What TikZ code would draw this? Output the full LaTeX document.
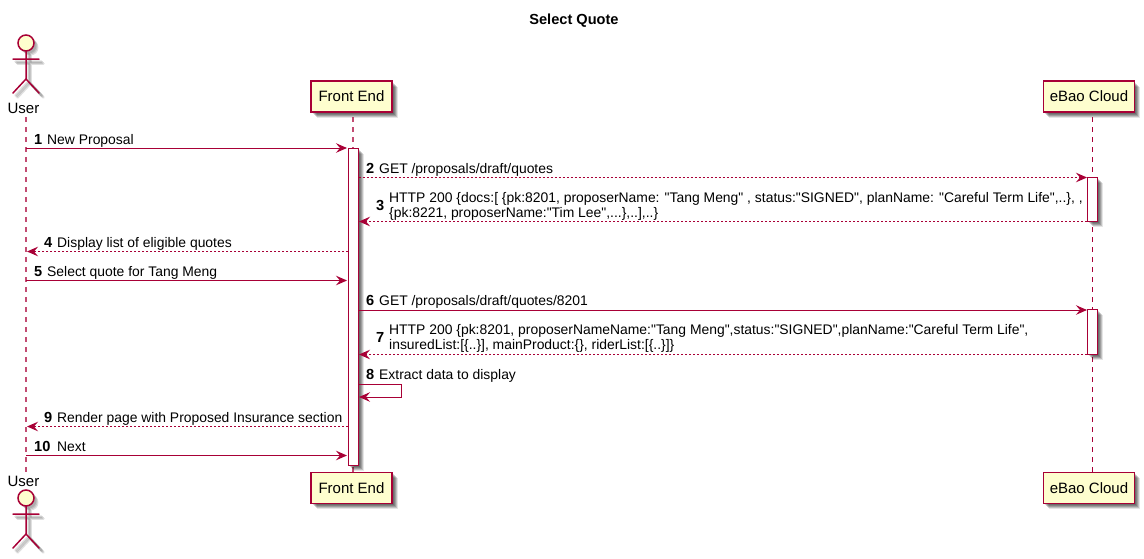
\documentclass[tikz,border=0pt]{standalone}
\usepackage{fontspec}
\setmainfont{Liberation Sans}
\newfontfamily\plainsans{Liberation Sans}
\usetikzlibrary{arrows.meta,shadows}
\definecolor{pu}{HTML}{A80036}
\definecolor{pf}{HTML}{FEFECE}
\tikzset{
  softshadow/.style={
    general shadow={shadow xshift=1.5pt,shadow yshift=-1.5pt,fill=black,opacity=.16},
    general shadow={shadow xshift=2.5pt,shadow yshift=-2.5pt,fill=black,opacity=.18},
    general shadow={shadow xshift=3.5pt,shadow yshift=-3.5pt,fill=black,opacity=.18},
    general shadow={shadow xshift=4.5pt,shadow yshift=-4.5pt,fill=black,opacity=.16},
    general shadow={shadow xshift=5.5pt,shadow yshift=-5.5pt,fill=black,opacity=.10}},
  party/.style={draw=pu,line width=1.5pt,fill=pf,inner sep=0pt,minimum height=31pt,font=\fontsize{15}{17}\selectfont\plainsans,softshadow},
  actv/.style={draw=pu,line width=1pt,fill=white,inner sep=0pt,minimum width=10pt,softshadow},
  life/.style={draw=pu,line width=1pt,dash pattern=on 5pt off 5pt},
  msg/.style={draw=pu,line width=1pt,-{Stealth[length=11pt,width=9.5pt,inset=4pt,fill=pu]}},
  ret/.style={msg,dash pattern=on 2pt off 2pt},
  lbl/.style={inner sep=0pt,font=\fontsize{13.9}{15}\selectfont\plainsans,anchor=base west},
  num/.style={inner sep=0pt,font=\fontsize{14.6}{15}\selectfont\plainsans\bfseries,anchor=base west},
  ulabel/.style={inner sep=0pt,font=\fontsize{15}{17}\selectfont\plainsans},
  actorline/.style={draw=pu,line width=1.5pt,line cap=round},
  actorshadow/.style={draw=black,opacity=.12,line width=2.5pt,line cap=round}
}
\newcommand{\actorfig}[2]{%
  \foreach \s in {2.5,3.5,4.5}{%
    \fill[black,opacity=.12] (#1+\s,#2+\s) circle (8);
    \draw[actorshadow] (#1-13+\s,#2+16+\s) -- (#1+13+\s,#2+16+\s)
      (#1+\s,#2+8+\s) -- (#1+\s,#2+36+\s)
      (#1-13+\s,#2+50+\s) -- (#1+\s,#2+36+\s) -- (#1+13+\s,#2+50+\s);
  }
  \draw[actorline,fill=pf] (#1,#2) circle (8);
  \draw[actorline] (#1-13,#2+16) -- (#1+13,#2+16)
    (#1,#2+8) -- (#1,#2+36)
    (#1-13,#2+50) -- (#1,#2+36) -- (#1+13,#2+50);
}
\begin{document}
\begin{tikzpicture}[x=1pt,y=-1pt]
\useasboundingbox (0,0) rectangle (1144,558);
\node[font=\fontsize{14.6}{16}\selectfont\plainsans\bfseries] (title) at (574,20.5) {Select Quote};
% participants
\actorfig{26}{43}
\actorfig{26}{498}
\node[ulabel] (usertop) at (23.5,108.5) {User};
\node[ulabel] (userbot) at (23.5,481) {User};
\node[party,minimum width=81pt] (fetop) at (351.5,96.5) {Front End};
\node[party,minimum width=81pt] (febot) at (351.5,488) {Front End};
\node[party,minimum width=91pt] (ebtop) at (1089,96.5) {eBao Cloud};
\node[party,minimum width=91pt] (ebbot) at (1089,488) {eBao Cloud};
% lifelines
\coordinate (ut) at (26,117); \coordinate (ub) at (26,474);
\coordinate (ft) at (353,117); \coordinate (fb) at (353,474);
\coordinate (et) at (1092.5,117); \coordinate (eb) at (1092.5,474);
\draw[life,line width=1.5pt,draw opacity=.7] (ut) -- (ub);
\draw[life,line width=1.5pt,draw opacity=.7] (ft) -- (fb);
\draw[life] (et) -- (eb);
% activations
\node[actv,minimum height=317pt] (afe) at (353.5,306.5) {};
\node[actv,minimum height=44pt] (ae1) at (1092.5,199.5) {};
\node[actv,minimum height=45pt] (ae2) at (1092.5,331.5) {};
% message end points
\coordinate (m1a) at (26,148); \coordinate (m1b) at (347,148);
\coordinate (m2a) at (358.5,177.5); \coordinate (m2b) at (1087,177.5);
\coordinate (m3a) at (1087,221.5); \coordinate (m3b) at (359,221.5);
\coordinate (m4a) at (348,251.5); \coordinate (m4b) at (27,251.5);
\coordinate (m5a) at (26,280.5); \coordinate (m5b) at (347,280.5);
\coordinate (m6a) at (358.5,310); \coordinate (m6b) at (1087,310);
\coordinate (m7a) at (1087,354.5); \coordinate (m7b) at (359,354.5);
\coordinate (m8a) at (358.5,384); \coordinate (m8b) at (401,384);
\coordinate (m8c) at (401,397); \coordinate (m8d) at (359,397);
\coordinate (m9a) at (348,426.5); \coordinate (m9b) at (27,426.5);
\coordinate (m10a) at (26,455.5); \coordinate (m10b) at (347,455.5);
% messages
\draw[msg] (m1a) -- (m1b);
\draw[ret] (m2a) -- (m2b);
\draw[ret] (m3a) -- (m3b);
\draw[ret] (m4a) -- (m4b);
\draw[msg] (m5a) -- (m5b);
\draw[msg] (m6a) -- (m6b);
\draw[ret] (m7a) -- (m7b);
\draw[msg] (m8a) -- (m8b) -- (m8c) -- (m8d);
\draw[ret] (m9a) -- (m9b);
\draw[msg] (m10a) -- (m10b);
% labels
\node[num] (n1) at (34,144) {1};
\node[lbl] (t1) at (47,144) {New Proposal};
\node[num] (n2) at (366,173) {2};
\node[lbl] (t2) at (379,173) {GET /proposals/draft/quotes};
\node[num] (n3) at (376,210) {3};
\node[lbl] (t3a) at (389,202) {HTTP 200 \{docs:[ \{pk:8201, proposerName: "Tang Meng" , status:"SIGNED", planName: "Careful Term Life",..\}, ,};
\node[lbl] (t3b) at (389,217) {\{pk:8221, proposerName:"Tim Lee",...\},..],..\}};
\node[num] (n4) at (44,247) {4};
\node[lbl] (t4) at (57,247) {Display list of eligible quotes};
\node[num] (n5) at (34,276) {5};
\node[lbl] (t5) at (47,276) {Select quote for Tang Meng};
\node[num] (n6) at (366,305) {6};
\node[lbl] (t6) at (379,305) {GET /proposals/draft/quotes/8201};
\node[num] (n7) at (376,342) {7};
\node[lbl] (t7a) at (389,334) {HTTP 200 \{pk:8201, proposerNameName:"Tang Meng",status:"SIGNED",planName:"Careful Term Life",};
\node[lbl] (t7b) at (389,349) {insuredList:[\{..\}], mainProduct:\{\}, riderList:[\{..\}]\}};
\node[num] (n8) at (366,379) {8};
\node[lbl] (t8) at (379,379) {Extract data to display};
\node[num] (n9) at (44,422) {9};
\node[lbl] (t9) at (57,422) {Render page with Proposed Insurance section};
\node[num] (n10) at (34,451) {10};
\node[lbl] (t10) at (57,451) {Next};
\end{tikzpicture}
\end{document}
